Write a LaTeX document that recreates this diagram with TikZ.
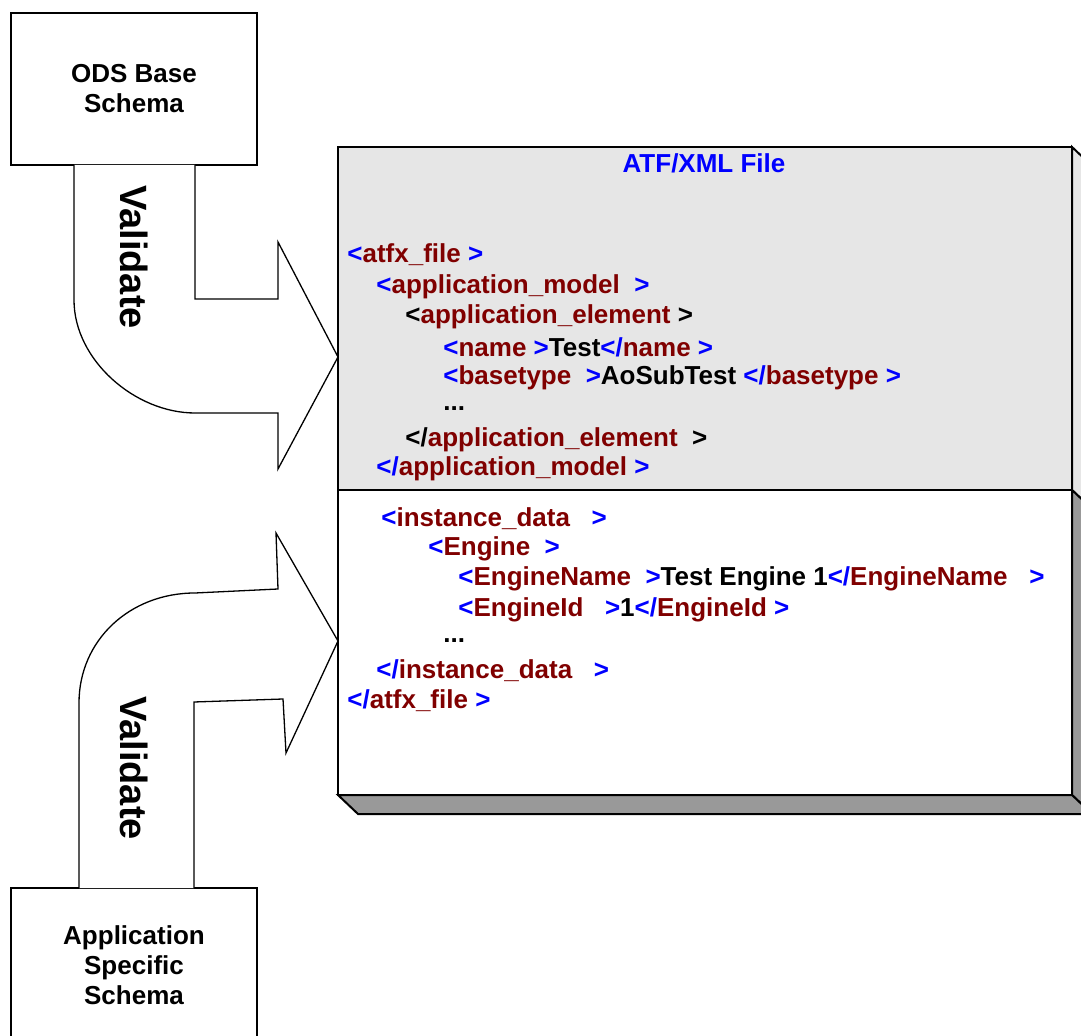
\documentclass[tikz,border=0pt]{standalone}
\usepackage{fontspec}
\setmainfont{Liberation Sans}
\definecolor{tagblue}{RGB}{0,0,255}
\definecolor{elemred}{RGB}{128,0,0}
\definecolor{facegray}{RGB}{230,230,230}
\definecolor{sidegray}{RGB}{153,153,153}
\newcommand\tb[1]{\textcolor{tagblue}{#1}}
\newcommand\er[1]{\textcolor{elemred}{#1}}

\begin{document}
\begin{tikzpicture}[x=0.5pt,y=-0.5pt,
 schema/.style={draw,line width=1pt,minimum width=123pt,align=center,font=\fontsize{13}{15}\selectfont\bfseries},
 bigarrow/.style={draw,fill=white,line width=0.65pt,line join=miter},
 validate/.style={rotate=-90,font=\fontsize{19}{22}\selectfont\bfseries},
 face/.style={draw,line width=1pt},
 xml/.style={anchor=west,inner sep=0pt,font=\fontsize{13}{15}\selectfont\bfseries}]
\useasboundingbox (0,0) rectangle (1081,1036);
\clip (0,0) rectangle (1081,1036);
% schema boxes
\node[schema,minimum height=76pt] (ods) at (134,89) {ODS Base\\Schema};
\node[schema,minimum height=77pt] (app) at (134,965) {Application\\Specific\\Schema};
% validate arrows
\draw[bigarrow] (195,165) -- (195,299) -- (278,299) -- (278,242) -- (338,357) -- (278,469) -- (278,413) -- (195,413)
 .. controls (135,413) and (74,360) .. (74,300) -- (74,165);
\draw[bigarrow] (194,888) -- (194,702) -- (283,699) -- (286,753) -- (338,641) -- (276,533) -- (278,589) -- (195,593)
 .. controls (130,593) and (79,640) .. (79,703) -- (79,888);
\node[validate] (val1) at (134,257) {Validate};
\node[validate] (val2) at (134,768) {Validate};
% ATF/XML file, model part
\filldraw[face,fill=facegray] (1072,147) -- (1092,166) -- (1092,509) -- (1072,490) -- cycle;
\filldraw[face,fill=facegray] (338,147) rectangle (1072,490);
% instance part
\filldraw[face,fill=sidegray] (1072,490) -- (1092,509) -- (1092,814) -- (1072,795) -- cycle;
\filldraw[face,fill=sidegray] (338,795) -- (1072,795) -- (1092,814) -- (358,814) -- cycle;
\filldraw[face,fill=white] (338,490) rectangle (1072,795);
\node[xml,anchor=center,text=tagblue] (title) at (704,163) {ATF/XML File};
\node[xml] (fileopen) at (347,255) {\tb{<}\er{atfx\_file}\tb{\ >}};
\node[xml] (modelopen) at (376,287) {\tb{<}\er{application\_model}\tb{\ \ >}};
\node[xml] (elemopen) at (405,317) {<\er{application\_element}\ >};
\node[xml] (name) at (443,347) {\tb{<}\er{name}\tb{\ >}Test\tb{</}\er{name}\tb{\ >}};
\node[xml] (basetype) at (443,378) {\tb{<}\er{basetype}\tb{\ \ >}AoSubTest\ \tb{</}\er{basetype}\tb{\ >}};
\node[xml] (dots1) at (443,409) {...};
\node[xml] (elemclose) at (405,440) {</\er{application\_element}\ \ >};
\node[xml] (modelclose) at (376,469) {\tb{</}\er{application\_model}\tb{\ >}};
\node[xml] (instopen) at (381,519) {\tb{<}\er{instance\_data}\tb{\ \ \ >}};
\node[xml] (engopen) at (428,549) {\tb{<}\er{Engine}\tb{\ \ >}};
\node[xml] (engname) at (458,579) {\tb{<}\er{EngineName}\tb{\ \ >}Test Engine 1\tb{</}\er{EngineName}\tb{\ \ \ >}};
\node[xml] (engid) at (458,610) {\tb{<}\er{EngineId}\tb{\ \ \ >}1\tb{</}\er{EngineId}\tb{\ >}};
\node[xml] (dots2) at (443,641) {...};
\node[xml] (instclose) at (376,671) {\tb{</}\er{instance\_data}\tb{\ \ \ >}};
\node[xml] (fileclose) at (347,701) {\tb{</}\er{atfx\_file}\tb{\ >}};
\end{tikzpicture}
\end{document}
